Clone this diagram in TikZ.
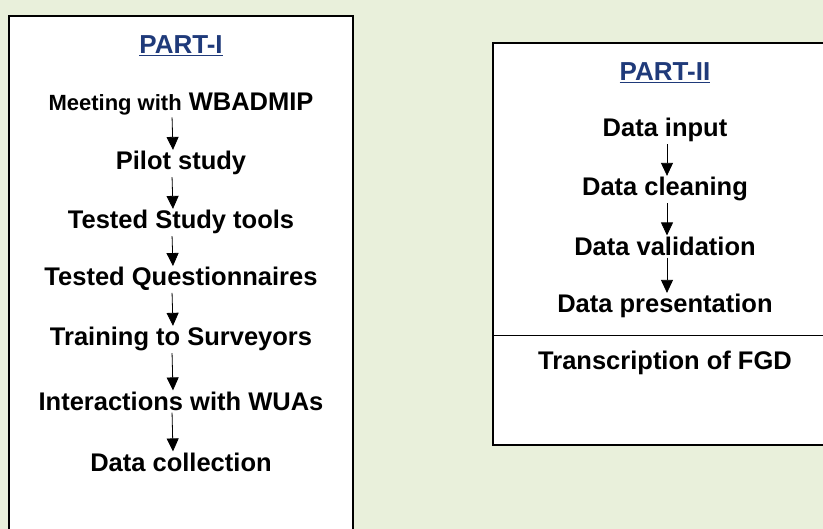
\documentclass[tikz,border=0pt]{standalone}
\usepackage{fontspec}
\setmainfont{Liberation Sans}
\usetikzlibrary{arrows.meta}
\definecolor{bg}{HTML}{E9F0DB}
\definecolor{navy}{HTML}{1F3A7A}
\tikzset{
  panel/.style={draw=black, line width=1.6pt, fill=white},
  txt/.style={font=\bfseries\fontsize{25.5}{30}\selectfont, inner sep=0pt, anchor=center},
  ttl/.style={font=\bfseries\fontsize{26}{30}\selectfont, text=navy, inner sep=1pt},
  flow/.style={-{Triangle[width=12pt,length=13pt]}, line width=0.8pt, shorten <=2pt, shorten >=1pt}
}
\begin{document}
\begin{tikzpicture}[x=1pt,y=-1pt]
\useasboundingbox (0,0) rectangle (823,529);
\fill[bg] (0,0) rectangle (823,529);
% panels
\draw[panel] (9,16) -- (353,16) -- (353,535) -- (9,535) -- cycle;
\draw[panel] (830,43) -- (493,43) -- (493,445) -- (830,445);
\fill[white] (494,44) rectangle (823,444);
\draw[line width=0.8pt] (493,335) -- (823,335);
% Part I
\node[ttl] (t1) at (181,46) {\underline{PART-I}};
\node[txt] (a1) at (181,104) {{\fontsize{22}{26}\selectfont Meeting with} WBADMIP};
\node[txt] (a2) at (181,163) {Pilot study};
\node[txt] (a3) at (181,222) {Tested Study tools};
\node[txt] (a4) at (181,279) {Tested Questionnaires};
\node[txt] (a5) at (181,339) {Training to Surveyors};
\node[txt] (a6) at (181,401) {Interactions with WUAs};
\node[txt] (a7) at (181,462) {Data collection};
\foreach \p/\q in {a1/a2,a2/a3,a3/a4,a4/a5,a5/a6,a6/a7}
  \draw[flow] ([xshift=-9pt]\p.south) -- ([xshift=-8pt]\q.north);
% Part II
\node[ttl] (t2) at (665,73) {\underline{PART-II}};
\node[txt] (b1) at (665,130) {Data input};
\node[txt] (b2) at (665,189) {Data cleaning};
\node[txt] (b3) at (665,246) {Data validation};
\node[txt] (b4) at (665,306) {Data presentation};
\node[txt] (b5) at (665,363) {Transcription of FGD};
\foreach \p/\q in {b1/b2,b2/b3,b3/b4}
  \draw[flow] ([xshift=2pt]\p.south) -- ([xshift=2pt]\q.north);
\end{tikzpicture}
\end{document}
